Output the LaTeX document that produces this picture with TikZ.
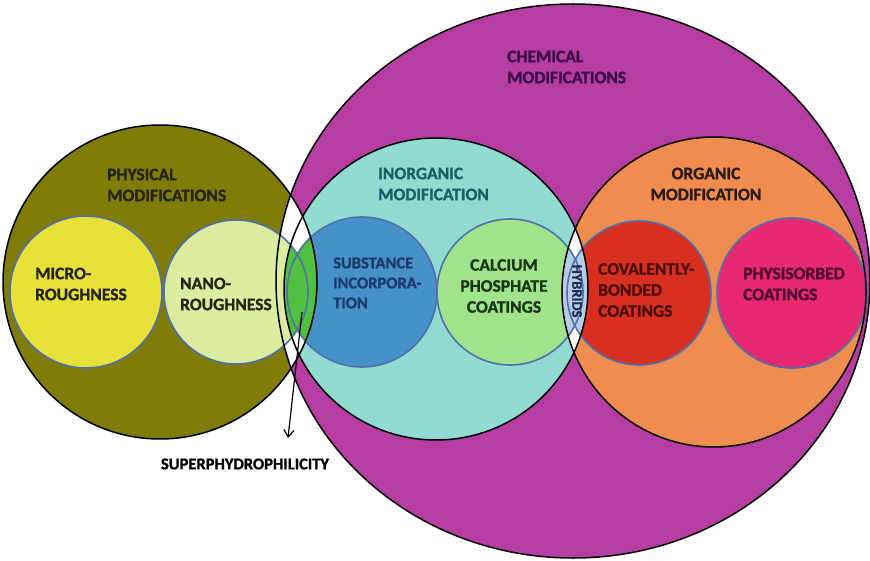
\documentclass[tikz,border=0pt]{standalone}
\usepackage{fontspec}
\setmainfont{Carlito}[BoldFeatures={FakeBold=1.2}]
\usepackage{xcolor}
\usetikzlibrary{arrows.meta}

\definecolor{chemfill}{HTML}{B83DA3}
\definecolor{physfill}{HTML}{807C08}
\definecolor{inorgfill}{HTML}{91DBD3}
\definecolor{orgfill}{HTML}{F08C50}
\definecolor{microfill}{HTML}{E8E238}
\definecolor{nanofill}{HTML}{DCECA0}
\definecolor{substfill}{HTML}{4692C8}
\definecolor{calcfill}{HTML}{A0E48C}
\definecolor{covfill}{HTML}{D83020}
\definecolor{physorbfill}{HTML}{E82870}
\definecolor{sphfill}{HTML}{50C040}
\definecolor{hybfill}{HTML}{B8CCE8}
\definecolor{subedge}{HTML}{5070AA}
% label inks
\definecolor{physink}{HTML}{25250F}
\definecolor{chemink}{HTML}{3A0A45}
\definecolor{inorgink}{HTML}{1B5E66}
\definecolor{orgink}{HTML}{2B1A0E}
\definecolor{substink}{HTML}{1C3A6E}
\definecolor{calcink}{HTML}{1E3515}
\definecolor{hybink}{HTML}{1E2E55}
\definecolor{covink}{HTML}{4A0D08}
\definecolor{physorbink}{HTML}{4A0430}

\begin{document}
\begin{tikzpicture}[
    x = 1pt, y = -1pt,
    every node/.style = {font=\bfseries\fontsize{17.5}{21}\selectfont, inner sep=0pt},
    % Named styles
    bigring/.style  = {draw=black, line width=1.5pt},
    subring/.style  = {draw=subedge, line width=1.6pt},
    lbl/.style      = {align=left, anchor=west},
    pointer/.style  = {-{Straight Barb[length=7pt,width=10pt]}, line width=1.2pt},
]

% ── Dimensions (1 unit = 1 px of the 870 x 561 frame) ─────────────────────────
\def\rPhys{157}   % physical modifications
\def\rxChem{297}  \def\ryChem{277}
\def\rxInorg{152} \def\ryInorg{151}
\def\rxOrg{152}   \def\ryOrg{155}
\def\rSub{74}     % the six sub-circles

\useasboundingbox (0,0) rectangle (870,561);

\coordinate (phys)    at (160,282);
\coordinate (chem)    at (573,281);
\coordinate (inorg)   at (436,289);
\coordinate (org)     at (714,292);
\coordinate (micro)   at (86,292);
\coordinate (nano)    at (236,292);
\coordinate (subst)   at (362,292);
\coordinate (calc)    at (510,292);
\coordinate (cov)     at (639,293);
\coordinate (physorb) at (792,293);

% ── Big fills ─────────────────────────────────────────────────────────────────
\fill[chemfill]  (chem)  ellipse [x radius=\rxChem, y radius=\ryChem];
\fill[physfill]  (phys)  circle [radius=\rPhys];
\fill[inorgfill] (inorg) ellipse [x radius=\rxInorg, y radius=\ryInorg];
\fill[orgfill]   (org)   ellipse [x radius=\rxOrg, y radius=\ryOrg];

% overlaps left blank
\begin{scope}
  \clip (phys) circle [radius=\rPhys];
  \fill[white] (chem) ellipse [x radius=\rxChem, y radius=\ryChem];
\end{scope}
\begin{scope}
  \clip (inorg) ellipse [x radius=\rxInorg, y radius=\ryInorg];
  \fill[white] (org) ellipse [x radius=\rxOrg, y radius=\ryOrg];
\end{scope}

% ── Sub-circles ───────────────────────────────────────────────────────────────
\fill[microfill]   (micro)   circle [radius=\rSub+2];
\fill[nanofill]    (nano)    circle [radius=\rSub-2];
\fill[substfill]   (subst)   circle [radius=\rSub+1];
\fill[calcfill]    (calc)    circle [radius=\rSub-1];
\fill[covfill]     (cov)     circle [radius=\rSub-2];
\fill[physorbfill] (physorb) circle [radius=\rSub+1];

% Superphydrophilicity lens
\begin{scope}
  \clip (phys) circle [radius=\rPhys];
  \clip (inorg) ellipse [x radius=\rxInorg, y radius=\ryInorg];
  \clip (nano) circle [radius=\rSub-2] (subst) circle [radius=\rSub+1];
  \fill[sphfill] (250,200) rectangle (330,380);
\end{scope}

% Hybrids lens
\begin{scope}
  \clip (inorg) ellipse [x radius=\rxInorg, y radius=\ryInorg];
  \clip (org) ellipse [x radius=\rxOrg, y radius=\ryOrg];
  \clip (calc) circle [radius=\rSub-1] (cov) circle [radius=\rSub-2];
  \fill[hybfill] (540,200) rectangle (610,380);
\end{scope}

\draw[subring] (micro)   circle [radius=\rSub+2];
\draw[subring] (nano)    circle [radius=\rSub-2];
\draw[subring] (subst)   circle [radius=\rSub+1];
\draw[subring] (calc)    circle [radius=\rSub-1];
\draw[subring] (cov)     circle [radius=\rSub-2];
\draw[subring] (physorb) circle [radius=\rSub+1];

% ── Outlines ──────────────────────────────────────────────────────────────────
\draw[bigring] (chem)  ellipse [x radius=\rxChem, y radius=\ryChem];
\draw[bigring] (phys)  circle [radius=\rPhys];
\draw[bigring] (inorg) ellipse [x radius=\rxInorg, y radius=\ryInorg];
\draw[bigring] (org)   ellipse [x radius=\rxOrg, y radius=\ryOrg];

% ── Labels ────────────────────────────────────────────────────────────────────
\node[lbl, text=physink]  (physlbl)  at (107,185) {PHYSICAL\\MODIFICATIONS};
\node[lbl, text=chemink]  (chemlbl)  at (507,67)  {CHEMICAL\\MODIFICATIONS};
\node[lbl, text=inorgink] (inorglbl) at (378,184) {INORGANIC\\MODIFICATION};
\node[align=center, text=orgink] (orglbl) at (706,184) {ORGANIC\\MODIFICATION};

\node[lbl, text=physink] (microlbl) at (35,284)  {MICRO-\\ROUGHNESS};
\node[lbl, text=physink] (nanolbl)  at (180,294) {NANO-\\ROUGHNESS};
\node[lbl, text=substink, font=\bfseries\fontsize{16.5}{20}\selectfont]
    (substlbl) at (333,283) {SUBSTANCE\\INCORPORA-\\TION};
\node[align=center, text=calcink] (calclbl) at (504,286)
    {CALCIUM\\PHOSPHATE\\COATINGS};
\node[rotate=-90, text=hybink, font=\bfseries\fontsize{14.5}{17}\selectfont]
    (hyblbl) at (577,291) {HYBRIDS};
\node[lbl, text=covink] (covlbl) at (598,290) {COVALENTLY-\\BONDED\\COATINGS};
\node[lbl, text=physorbink] (physorblbl) at (743,284) {PHYSISORBED\\COATINGS};

% ── Pointer ───────────────────────────────────────────────────────────────────
\node[font=\bfseries\fontsize{16.5}{19}\selectfont] (sphlbl) at (245,464) {SUPERPHYDROPHILICITY};
\coordinate (sphpt) at (302,312);
\coordinate (sphtip) at (288,438);
\draw[pointer] (sphpt) -- (sphtip);

\end{tikzpicture}
\end{document}
